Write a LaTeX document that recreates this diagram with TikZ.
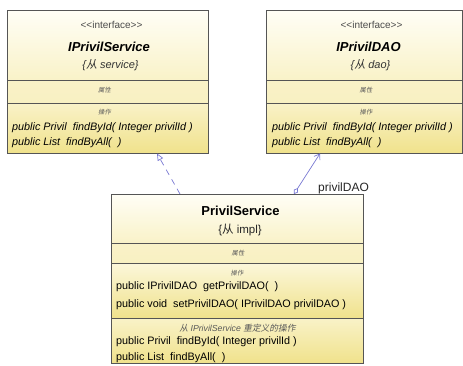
\documentclass[tikz,border=0pt]{standalone}
\usepackage{fontspec}
\setmainfont{Liberation Sans}
\newfontfamily\cjk{Noto Sans CJK SC}
\newfontfamily\cjki[FakeSlant=0.2]{Noto Sans CJK SC}
\usetikzlibrary{arrows.meta}
\definecolor{umlborder}{RGB}{85,85,85}
\definecolor{umllink}{RGB}{120,120,210}
\definecolor{ytop}{RGB}{255,254,246}
\definecolor{ymid}{RGB}{249,242,200}
\definecolor{ylow}{RGB}{240,226,140}
\tikzset{
  stereo/.style={font=\fontsize{10}{11}\selectfont, text=black!70},
  cname/.style={font=\fontsize{13}{14}\selectfont\bfseries\itshape},
  cnameup/.style={font=\fontsize{13}{14}\selectfont\bfseries},
  pkg/.style={font=\fontsize{11}{12}\selectfont\itshape, text=black!80},
  pkgup/.style={font=\fontsize{11.5}{12}\selectfont, text=black!85},
  sect/.style={font=\fontsize{6.3}{7}\selectfont\cjki, text=black!65},
  oper/.style={anchor=west, font=\fontsize{10.8}{11}\selectfont\itshape, inner sep=0pt},
  operup/.style={anchor=west, font=\fontsize{10.8}{11}\selectfont, inner sep=0pt},
  frame/.style={draw=umlborder, line width=0.8pt},
  divider/.style={draw=umlborder, line width=0.7pt},
  link/.style={draw=umllink, line width=0.7pt},
}
\begin{document}
\begin{tikzpicture}[x=1pt,y=-1pt]
\useasboundingbox (0,0) rectangle (463,365);

% ---- IPrivilService ----
\shade[top color=ytop, bottom color=ymid] (7,10) rectangle (208,80);
\shade[top color=ymid, bottom color=ymid!90!ylow] (7,80) rectangle (208,103);
\shade[top color=ymid, bottom color=ylow] (7,103) rectangle (208,153);
\node[frame, rectangle, inner sep=0pt, minimum width=201pt, minimum height=143pt] (svc) at (107.5,81.5) {};
\draw[divider] (7,80) -- (208,80) (7,103) -- (208,103);
\node[stereo] (svcst) at (111.5,25) {{<}{<}interface{>}{>}};
\node[cname] (svcname) at (109,46.5) {IPrivilService};
\node[pkg] (svcpkg) at (110.5,65) {\{{\cjki 从} service\}};
\node[sect] (svcattr) at (104.5,90.5) {属性};
\node[sect] (svcops) at (104.5,112) {操作};
\node[oper] (svcop1) at (12,127.5) {public Privil\ \ findById( Integer privilId )};
\node[oper] (svcop2) at (12,143) {public List\ \ findByAll(\ \ )};

% ---- IPrivilDAO ----
\shade[top color=ytop, bottom color=ymid] (266,10) rectangle (462,80);
\shade[top color=ymid, bottom color=ymid!90!ylow] (266,80) rectangle (462,103);
\shade[top color=ymid, bottom color=ylow] (266,103) rectangle (462,153);
\node[frame, rectangle, inner sep=0pt, minimum width=196pt, minimum height=143pt] (dao) at (364,81.5) {};
\draw[divider] (266,80) -- (462,80) (266,103) -- (462,103);
\node[stereo] (daost) at (371.5,25) {{<}{<}interface{>}{>}};
\node[cname] (daoname) at (368.5,46.5) {IPrivilDAO};
\node[pkg] (daopkg) at (370.5,65) {\{{\cjki 从} dao\}};
\node[sect] (daoattr) at (366,90.5) {属性};
\node[sect] (daoops) at (366,112) {操作};
\node[oper] (daoop1) at (272,127.5) {public Privil\ \ findById( Integer privilId )};
\node[oper] (daoop2) at (272,143) {public List\ \ findByAll(\ \ )};

% ---- PrivilService ----
\shade[top color=ytop, bottom color=ymid] (111,194) rectangle (363,243);
\shade[top color=ymid, bottom color=ymid!90!ylow] (111,243) rectangle (363,263);
\shade[top color=ymid!60!ytop, bottom color=ylow] (111,263) rectangle (363,318);
\shade[top color=ymid, bottom color=ylow] (111,318) rectangle (363,363);
\node[frame, rectangle, inner sep=0pt, minimum width=252pt, minimum height=169pt] (impl) at (237,278.5) {};
\draw[divider] (111,243) -- (363,243) (111,263) -- (363,263) (111,318) -- (363,318);
\node[cnameup] (implname) at (240.5,211) {PrivilService};
\node[pkgup] (implpkg) at (240,230) {\{{\cjk 从} impl\}};
\node[sect] (implattr) at (238,253) {属性};
\node[sect] (implops) at (237,273) {操作};
\node[operup] (implop1) at (116,287) {public IPrivilDAO\ \ getPrivilDAO(\ \ )};
\node[operup] (implop2) at (116,304.5) {public void\ \ setPrivilDAO( IPrivilDAO privilDAO )};
\node[sect, font=\fontsize{8.7}{9}\selectfont] (implinh) at (237.5,328) {{\cjki 从} \textit{IPrivilService} {\cjki 重定义的操作}};
\node[operup] (implop3) at (116,341.5) {public Privil\ \ findById( Integer privilId )};
\node[operup] (implop4) at (116,358) {public List\ \ findByAll(\ \ )};

% ---- connectors ----
\coordinate (realS) at (180,194);
\coordinate (realT) at (157,153.5);
\draw[link, dash pattern=on 6pt off 5pt, -{Triangle[open, length=7pt, width=6pt]}] (realS) -- (realT);

\coordinate (assocS) at (294,194);
\coordinate (assocT) at (320,153.5);
\draw[link, {Diamond[open, length=7pt, width=5pt]}-{Straight Barb[length=5pt, width=7pt]}] (assocS) -- (assocT);
\node[font=\fontsize{12}{13}\selectfont, text=black!85, anchor=west, inner sep=0pt] (role) at (318,188) {privilDAO};
\end{tikzpicture}
\end{document}
